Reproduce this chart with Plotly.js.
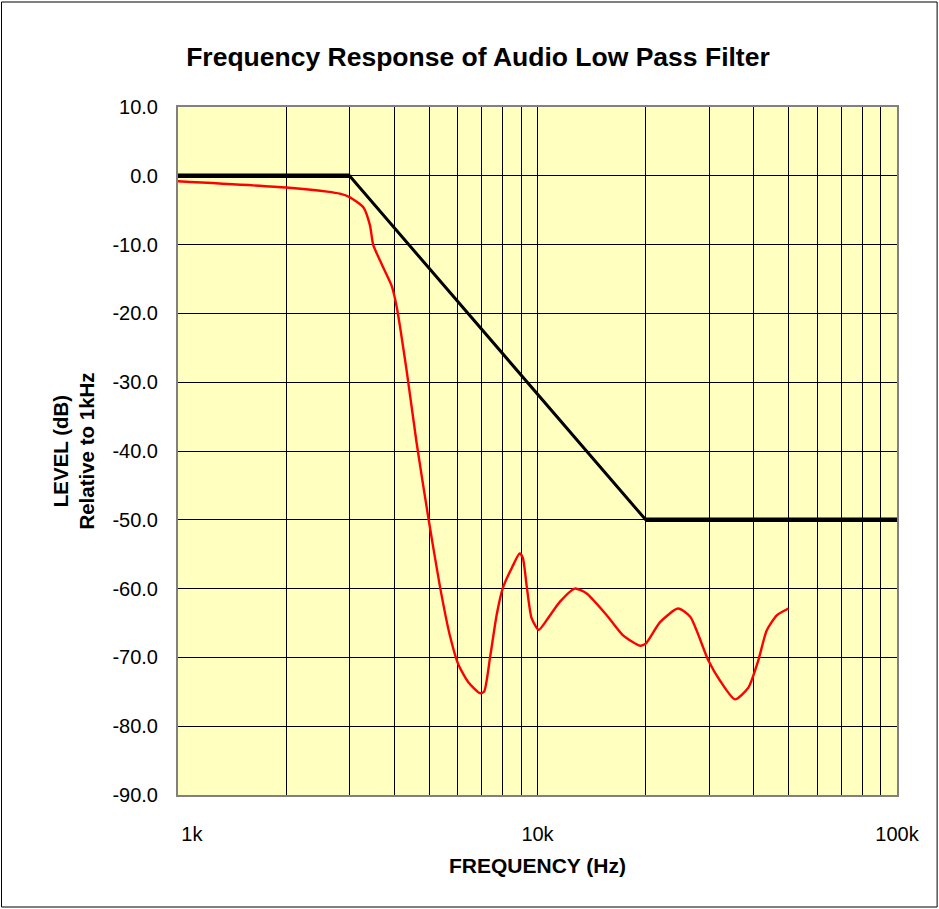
<!DOCTYPE html>
<html>
<head>
<meta charset="utf-8">
<script src="https://cdn.plot.ly/plotly-3.0.1.min.js"></script>
<style>html,body{margin:0;padding:0;background:#fff;}#chart{width:939px;height:909px;}</style>
</head>
<body>
<div id="chart"></div>
<script>
// Specification mask (black line)
const maskFreq = [1000, 3000, 20000, 100000];
const maskLevel = [0, 0, -50, -50];

// Measured response (red line)
const respFreq = [1000, 2000, 2600, 2820, 3000, 3280, 3420, 3490, 3690, 3930, 4060, 4330, 4610, 4970, 5350, 5710, 6020, 6420, 6920, 7100, 7380, 7700, 8000, 8480, 8920, 9100, 9330, 9630, 10080, 10700, 11550, 12700, 13700, 15600, 17300, 19300, 20000, 21900, 24600, 26600, 29900, 32200, 35400, 38600, 41100, 43400, 46300, 49900];
const respLevel = [-0.8, -1.7, -2.3, -2.6, -3.1, -4.6, -7.2, -10.0, -12.9, -16.0, -19.1, -28.5, -38.8, -49.7, -59.6, -66.9, -71.0, -73.6, -75.2, -75.0, -70.0, -63.8, -60.0, -57.0, -54.9, -55.5, -59.6, -64.3, -66.0, -64.3, -61.9, -60.0, -60.7, -63.9, -66.8, -68.3, -68.0, -64.9, -62.9, -64.1, -70.5, -73.4, -76.1, -74.4, -70.5, -66.1, -63.9, -62.9];

// Axis ticks
const xTickVals = [1000,2000,3000,4000,5000,6000,7000,8000,9000,10000,20000,30000,40000,50000,60000,70000,80000,90000,100000];
const xTickText = ['\u00a0\u00a0\u00a0\u00a0\u00a01k','','','','','','','','','10k','','','','','','','','','100k'];
const yTickVals = [10,0,-10,-20,-30,-40,-50,-60,-70,-80,-90];
const yTickText = ['10.0','0.0','-10.0','-20.0','-30.0','-40.0','-50.0','-60.0','-70.0','-80.0','-90.0'];

const flatFreq = [maskFreq[0], maskFreq[1], null, maskFreq[2], maskFreq[3]];
const flatLevel = [maskLevel[0], maskLevel[1], null, maskLevel[2], maskLevel[3]];

const traces = [
  {x: maskFreq, y: maskLevel, type: 'scatter', mode: 'lines',
   line: {color: '#000000', width: 3}, hoverinfo: 'skip'},
  {x: flatFreq, y: flatLevel, type: 'scatter', mode: 'lines', connectgaps: false,
   line: {color: '#000000', width: 4.5}, hoverinfo: 'skip'},
  {x: respFreq, y: respLevel, type: 'scatter', mode: 'lines',
   line: {color: '#ff0000', width: 2.4, shape: 'spline', smoothing: 0.6}, hoverinfo: 'skip'}
];

const layout = {
  width: 939, height: 909,
  paper_bgcolor: '#ffffff',
  plot_bgcolor: '#ffffc0',
  showlegend: false,
  margin: {l: 178, r: 42, t: 107, b: 114},
  font: {family: 'Liberation Sans, Arial, sans-serif', color: '#000000'},
  title: {text: '<b>Frequency Response of Audio Low Pass Filter</b>', x: 0.509, xanchor: 'center', y: 0.938, yanchor: 'middle', font: {size: 26.5, color: '#000'}},
  xaxis: {
    type: 'log', range: [3, 5], tickmode: 'array', tickvals: xTickVals, ticktext: xTickText,
    showgrid: true, gridcolor: '#000000', gridwidth: 1,
    showline: true, linecolor: '#808080', linewidth: 2, mirror: true,
    ticks: '', ticklabelstandoff: 20, tickfont: {size: 20},
    title: {text: '<b>FREQUENCY (Hz)</b>', font: {size: 21}, standoff: 14},
    zeroline: false, fixedrange: true
  },
  yaxis: {
    range: [-90, 10], tickmode: 'array', tickvals: yTickVals, ticktext: yTickText,
    showgrid: true, gridcolor: '#000000', gridwidth: 1,
    showline: true, linecolor: '#808080', linewidth: 2, mirror: true,
    ticks: '', ticklabelstandoff: 14, tickfont: {size: 20},
    title: {text: '<b>LEVEL (dB)<br>Relative to 1kHz</b>', font: {size: 20.5}, standoff: 12},
    zeroline: false, fixedrange: true
  },
  shapes: [
    {type: 'rect', xref: 'paper', yref: 'paper', x0: -176/717, x1: 1 + 40/717, y0: -112/688, y1: 1 + 105/688,
     line: {color: '#000000', width: 1}, fillcolor: 'rgba(0,0,0,0)', layer: 'below'}
  ]
};

Plotly.newPlot('chart', traces, layout, {displayModeBar: false, staticPlot: true});
</script>
</body>
</html>
